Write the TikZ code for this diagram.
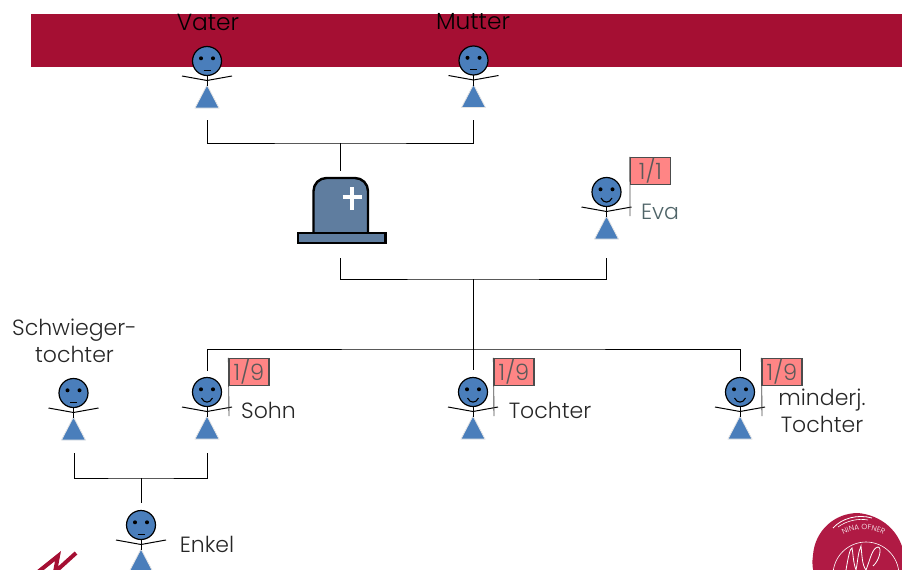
\documentclass[tikz,border=0pt]{standalone}
\usepackage{fontspec}
\setmainfont{Poppins}[UprightFont=* Light]
\usetikzlibrary{decorations.text}
\definecolor{weinrot}{HTML}{A50F33}
\definecolor{siegelrot}{HTML}{B01A44}
\definecolor{figurblau}{HTML}{4A7EBB}
\definecolor{grabblau}{HTML}{5F7D9F}
\definecolor{quotenrot}{HTML}{FF8585}
\definecolor{evagrau}{HTML}{4F6468}

\newcommand{\mundernst}{\draw[line width=0.9pt] (-3.5,9) -- (3.5,9);}
\newcommand{\mundfroh}{\draw[line width=1.1pt] (-5.5,6) .. controls (-3,11.5) and (3,11.5) .. (5.5,6);}

\tikzset{
  kopf/.style={draw=black,line width=1.2pt,circle,inner sep=0pt,fill=figurblau,minimum size=29pt},
  quotenbox/.style={draw=black!70,line width=1.2pt,rectangle,inner sep=0pt,fill=quotenrot,minimum width=40pt,minimum height=27pt,text=black!65,font=\fontsize{22.5}{25}\selectfont},
  nametext/.style={inner sep=0pt,align=center,text=black!85,font=\fontsize{22}{26.5}\selectfont},
  person/.pic={
    \draw[line width=0.8pt,fill=figurblau,draw=black!10] (0,24) -- (-12,47) -- (12,47) -- cycle;
    \draw[line width=1pt] (0,14) -- (0,25);
    \draw[line width=1pt] (-25,15) -- (0,19.5) -- (25,15);
    \node[kopf] (-kopf) at (0,0) {};
    \fill (-6,-2.7) circle (2pt);
    \fill (6,-2.7) circle (2pt);
    #1
  }
}

\begin{document}
\begin{tikzpicture}[x=1pt,y=-1pt,line width=0.9pt]
    \useasboundingbox (0,0) rectangle (902,570);
    \clip (0,0) rectangle (902,570);

    \fill[weinrot] (31,14) rectangle (902,67);

    % Personen
    \pic (vater) at (207,61) {person=\mundernst};
    \pic (mutter) at (473.5,60.5) {person=\mundernst};
    \pic (eva) at (606.5,192) {person=\mundfroh};
    \pic (schwieger) at (73.5,393) {person=\mundernst};
    \pic (sohn) at (207,392) {person=\mundfroh};
    \pic (tochter) at (473,392) {person=\mundfroh};
    \pic (minderj) at (740,392) {person=\mundfroh};
    \pic (enkel) at (141,525) {person=\mundernst};

    % Quoten
    \node[quotenbox] (evaquote) at (650.5,171) {1/1};
    \node[quotenbox] (sohnquote) at (249,372) {1/9};
    \node[quotenbox] (tochterquote) at (514,372) {1/9};
    \node[quotenbox] (minderjquote) at (782,372) {1/9};
    \coordinate (evamast) at (630,216);
    \coordinate (sohnmast) at (229,416);
    \coordinate (tochtermast) at (494,416);
    \coordinate (minderjmast) at (762,416);
    \path [-,draw=black!70] (evaquote.north west) edge (evamast);
    \path [-,draw=black!70] (sohnquote.north west) edge (sohnmast);
    \path [-,draw=black!70] (tochterquote.north west) edge (tochtermast);
    \path [-,draw=black!70] (minderjquote.north west) edge (minderjmast);

    % Namen
    \node[nametext,text=black,font=\fontsize{23.3}{26}\selectfont] (vatername) at (208,22) {Vater};
    \node[nametext,text=black,font=\fontsize{23.3}{26}\selectfont] (muttername) at (473,22) {Mutter};
    \node[nametext,text=evagrau] (evaname) at (660,212) {Eva};
    \node[nametext] (schwiegername) at (74.5,341) {Schwieger-\\tochter};
    \node[nametext] (sohnname) at (268.5,410) {Sohn};
    \node[nametext] (tochtername) at (550,410) {Tochter};
    \node[nametext] (minderjname) at (822,411) {minderj.\\Tochter};
    \node[nametext] (enkelname) at (207,544) {Enkel};

    % Grabstein
    \draw[line width=2.4pt,fill=grabblau,rounded corners=13pt] (313.5,233) -- (313.5,178) -- (368,178) -- (368,233);
    \draw[line width=2.4pt,fill=grabblau] (298,233) rectangle (385.5,243);
    \draw[white,line width=4.5pt] (352,187) -- (352,210);
    \draw[white,line width=4.5pt] (342.5,197) -- (362,197);

    % Verbindungen
    \coordinate (vaterfuss) at (207,120);
    \coordinate (mutterfuss) at (473,120);
    \coordinate (elternmitte) at (340.5,143);
    \coordinate (grabtop) at (340.5,171);
    \coordinate (grabfuss) at (340.5,258);
    \coordinate (evafuss) at (606,258);
    \coordinate (paarmitte) at (473,279);
    \coordinate (kinderbalken) at (473,349);
    \coordinate (tochterkopf) at (473,370);
    \coordinate (sohnkopf) at (207,371);
    \coordinate (minderjkopf) at (740,371);
    \coordinate (schwiegerfuss) at (74,453);
    \coordinate (sohnfuss) at (207,453);
    \coordinate (enkelmitte) at (141,478);
    \coordinate (enkelkopf) at (141,503);

    \draw (vaterfuss) |- (elternmitte) -| (mutterfuss);
    \path [-] (elternmitte) edge (grabtop);
    \draw (grabfuss) |- (paarmitte) -| (evafuss);
    \path [-] (paarmitte) edge (tochterkopf);
    \draw (sohnkopf) |- (kinderbalken) -| (minderjkopf);
    \draw (schwiegerfuss) |- (enkelmitte) -| (sohnfuss);
    \path [-] (enkelmitte) edge (enkelkopf);

    % Logo
    \draw[weinrot,line width=4pt,line join=miter] (38,572) -- (58,556) -- (55,572) -- (76,553);

    % Siegel
    \fill[siegelrot] (813,555) .. controls (815,530) and (835,513) .. (858,513) .. controls (880,515) and (902,530) .. (905,560) -- (905,575) -- (815,575) .. controls (812,570) and (812,562) .. (813,555) -- cycle;
    \draw[white,line width=0.6pt] (866,575) circle (33pt);
    \draw[white,line width=0.8pt] (833,528) .. controls (842,518) and (858,514) .. (872,518);
    \draw[white,line width=0.6pt] (838,527) .. controls (846,521) and (858,518) .. (868,520);
    \path[decorate,decoration={text along path,text={|\fontsize{7.5}{9}\selectfont\color{white}|NINA OFNER},text align=center}] (836,541) .. controls (848,526) and (878,526) .. (891,541);
    \draw[white,line width=0.8pt] (846,570) .. controls (848,558) and (850,548) .. (852,548) .. controls (853,552) and (853,562) .. (856,570) .. controls (858,560) and (858,552) .. (861,546) .. controls (862,555) and (862,565) .. (866,570) .. controls (870,560) and (872,548) .. (878,547) .. controls (882,547) and (880,560) .. (873,566);
\end{tikzpicture}
\end{document}
